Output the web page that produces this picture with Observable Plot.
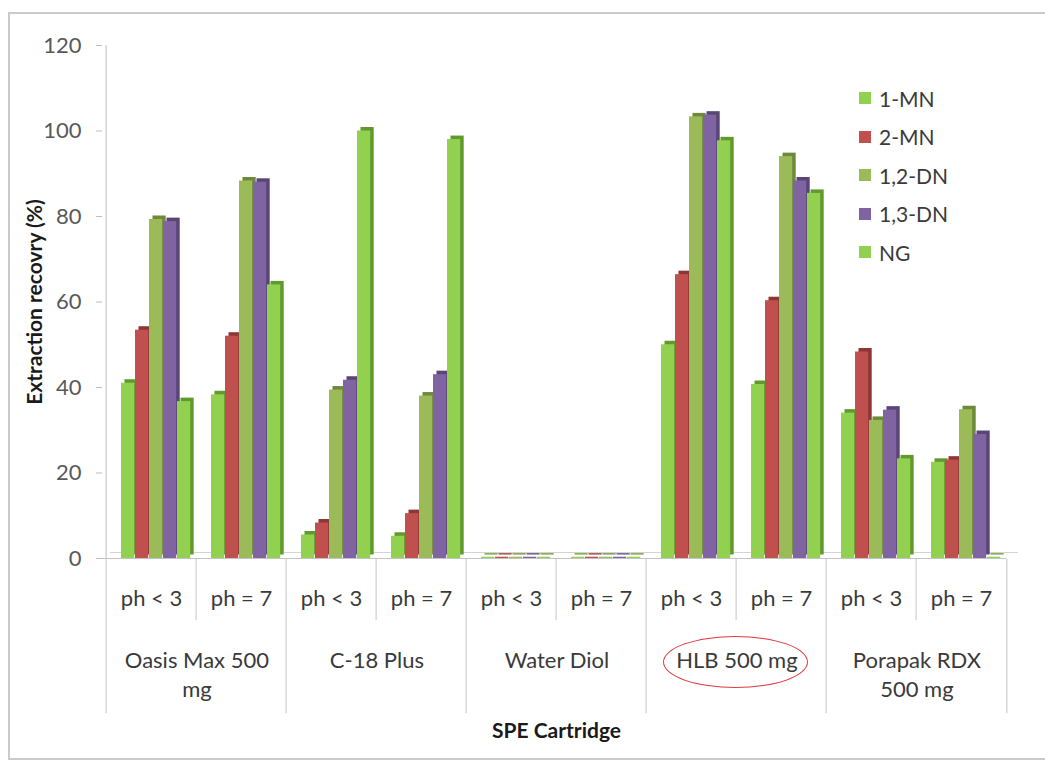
<!DOCTYPE html>
<html>
<head>
<meta charset="utf-8">
<script src="https://cdn.jsdelivr.net/npm/d3@7"></script>
<script src="https://cdn.jsdelivr.net/npm/@observablehq/plot@0.6"></script>
<style>
  body { margin: 0; background: #fff; font-family: Lato, "Open Sans", sans-serif; }
  #chart { position: relative; width: 1045px; height: 762px; overflow: hidden; background: #fff; }
  #chart svg { position: absolute; left: 0; top: 0; }
  #border { position: absolute; left: 8px; top: 12px; width: 1100px; height: 748px;
            border: 2px solid #cacaca; box-sizing: border-box; pointer-events: none; }
  #legend { position: absolute; left: 859px; top: 79px; font-size: 21px; color: #3a3a3a; }
  #legend .item { display: flex; align-items: center; height: 38.5px; }
  #legend .sw { width: 12px; height: 12px; margin-right: 8px; }
  #mark { position: absolute; left: 663px; top: 636px; width: 145px; height: 52px;
          border: 1.5px solid #e0393e; border-radius: 50%; box-sizing: border-box; pointer-events: none; }
</style>
</head>
<body>
<div id="chart">
  <div id="border"></div>
  <div id="mark"></div>
  <div id="legend"></div>
</div>
<script>
// Categories
const cartridges = ["Oasis Max 500\nmg", "C-18 Plus", "Water Diol", "HLB 500 mg", "Porapak RDX\n500 mg"];
const phLevels = ["ph < 3", "ph = 7"];
const series = ["1-MN", "2-MN", "1,2-DN", "1,3-DN", "NG"];
const yTicks = [0, 20, 40, 60, 80, 100, 120];

// Extraction recovery (%), ordered cartridge by cartridge, ph < 3 then ph = 7
const mn1  = [41.0, 38.3, 5.5, 5.2, 0.3, 0.3, 50.0, 40.7, 34.0, 22.5];
const mn2  = [53.4, 52.0, 8.3, 10.5, 0.3, 0.3, 66.4, 60.3, 48.3, 23.0];
const dn12 = [79.3, 88.3, 39.4, 38.0, 0.3, 0.3, 103.3, 94.0, 32.3, 34.8];
const dn13 = [78.8, 88.0, 41.7, 43.0, 0.3, 0.3, 103.7, 88.3, 34.7, 29.0];
const ng   = [36.7, 64.0, 100.0, 98.0, 0.3, 0.3, 97.7, 85.4, 23.3, 0.3];
const seriesValues = [mn1, mn2, dn12, dn13, ng];

// Face and side colours of the extruded columns
const faceColors = ["#92d050", "#c0504d", "#9bbb59", "#8064a2", "#92d050"];
const sideColors = ["#619a2c", "#8d3735", "#6e893c", "#5a4577", "#619a2c"];

// Layout
const width = 1045, height = 762;
const marginLeft = 102, marginRight = 35, marginTop = 45, marginBottom = 204;
const band = (width - marginLeft - marginRight) / (cartridges.length * phLevels.length);
const barW = 14, barOffset = 15, depth = 3.5;
const fontSize = 22;

const keys = [];
cartridges.forEach(c => phLevels.forEach(p => keys.push(c + "|" + p)));

const rows = series.map((s, si) => keys.map((k, ki) => ({key: k, series: s, value: seriesValues[si][ki]})));

const marks = [];

// floor plate
marks.push(Plot.ruleY([0], {stroke: "#d4d4d4", dx: 8, dy: -6}));
marks.push(Plot.ruleY([0], {stroke: "#c4c4c4", dx: -4}));

// columns: side/top extrusion first, then the front face, series by series
series.forEach((s, si) => {
  const insetLeft = barOffset + si * barW;
  const insetRight = band - barOffset - (si + 1) * barW;
  marks.push(Plot.barY(rows[si], {
    x: "key", y1: 0, y2: "value", insetLeft, insetRight,
    fill: sideColors[si], dx: depth, dy: -depth
  }));
  marks.push(Plot.barY(rows[si], {
    x: "key", y1: 0, y2: "value", insetLeft, insetRight,
    fill: faceColors[si]
  }));
});

// value axis
marks.push(Plot.ruleX([keys[0]], {dx: -band / 2, y1: 0, y2: 120, stroke: "#bdbdbd"}));
marks.push(Plot.axisY({
  ticks: yTicks, tickSize: 6, tickPadding: 15, fontSize,
  color: "#595959", stroke: "#bdbdbd", label: null
}));
marks.push(Plot.text(["Extraction recovry (%)"], {
  frameAnchor: "left", textAnchor: "middle", rotate: -90, dx: -67,
  fontSize: 21, fontWeight: "bold", fill: "#1a1a1a"
}));

// category table below the floor
const SHORT_DROP = -14.5, LONG_DROP = -36.3;
marks.push(Plot.ruleX(keys, {
  x: d => d, dx: -band / 2, y1: -0.2,
  y2: (d, i) => (i % 2 === 0 ? LONG_DROP : SHORT_DROP), stroke: "#c4c4c4"
}));
marks.push(Plot.ruleX([keys[keys.length - 1]], {
  dx: band / 2, y1: -0.2, y2: LONG_DROP, stroke: "#c4c4c4"
}));
marks.push(Plot.axisX({
  tickSize: 0, tickPadding: 32, fontSize, color: "#3a3a3a",
  tickFormat: k => k.split("|")[1], label: null
}));
marks.push(Plot.text(cartridges, {
  x: c => c + "|" + phLevels[0], dx: band / 2, frameAnchor: "bottom", dy: 89,
  lineAnchor: "top", lineHeight: 1.32, fontSize, fill: "#3a3a3a"
}));
marks.push(Plot.text(["SPE Cartridge"], {
  frameAnchor: "bottom", dy: 179, fontSize: 21, fontWeight: "bold", fill: "#1a1a1a"
}));

const chart = Plot.plot({
  width, height, marginLeft, marginRight, marginTop, marginBottom,
  style: {fontFamily: "Lato, 'Open Sans', sans-serif", background: "transparent", overflow: "visible"},
  x: {type: "band", domain: keys, padding: 0, axis: null},
  y: {domain: [0, 120], axis: null},
  marks
});
document.getElementById("chart").prepend(chart);

// legend
const legend = document.getElementById("legend");
series.forEach((s, i) => {
  const item = document.createElement("div");
  item.className = "item";
  item.innerHTML = `<span class="sw" style="background:${faceColors[i]}"></span><span>${s}</span>`;
  legend.appendChild(item);
});
</script>
</body>
</html>
